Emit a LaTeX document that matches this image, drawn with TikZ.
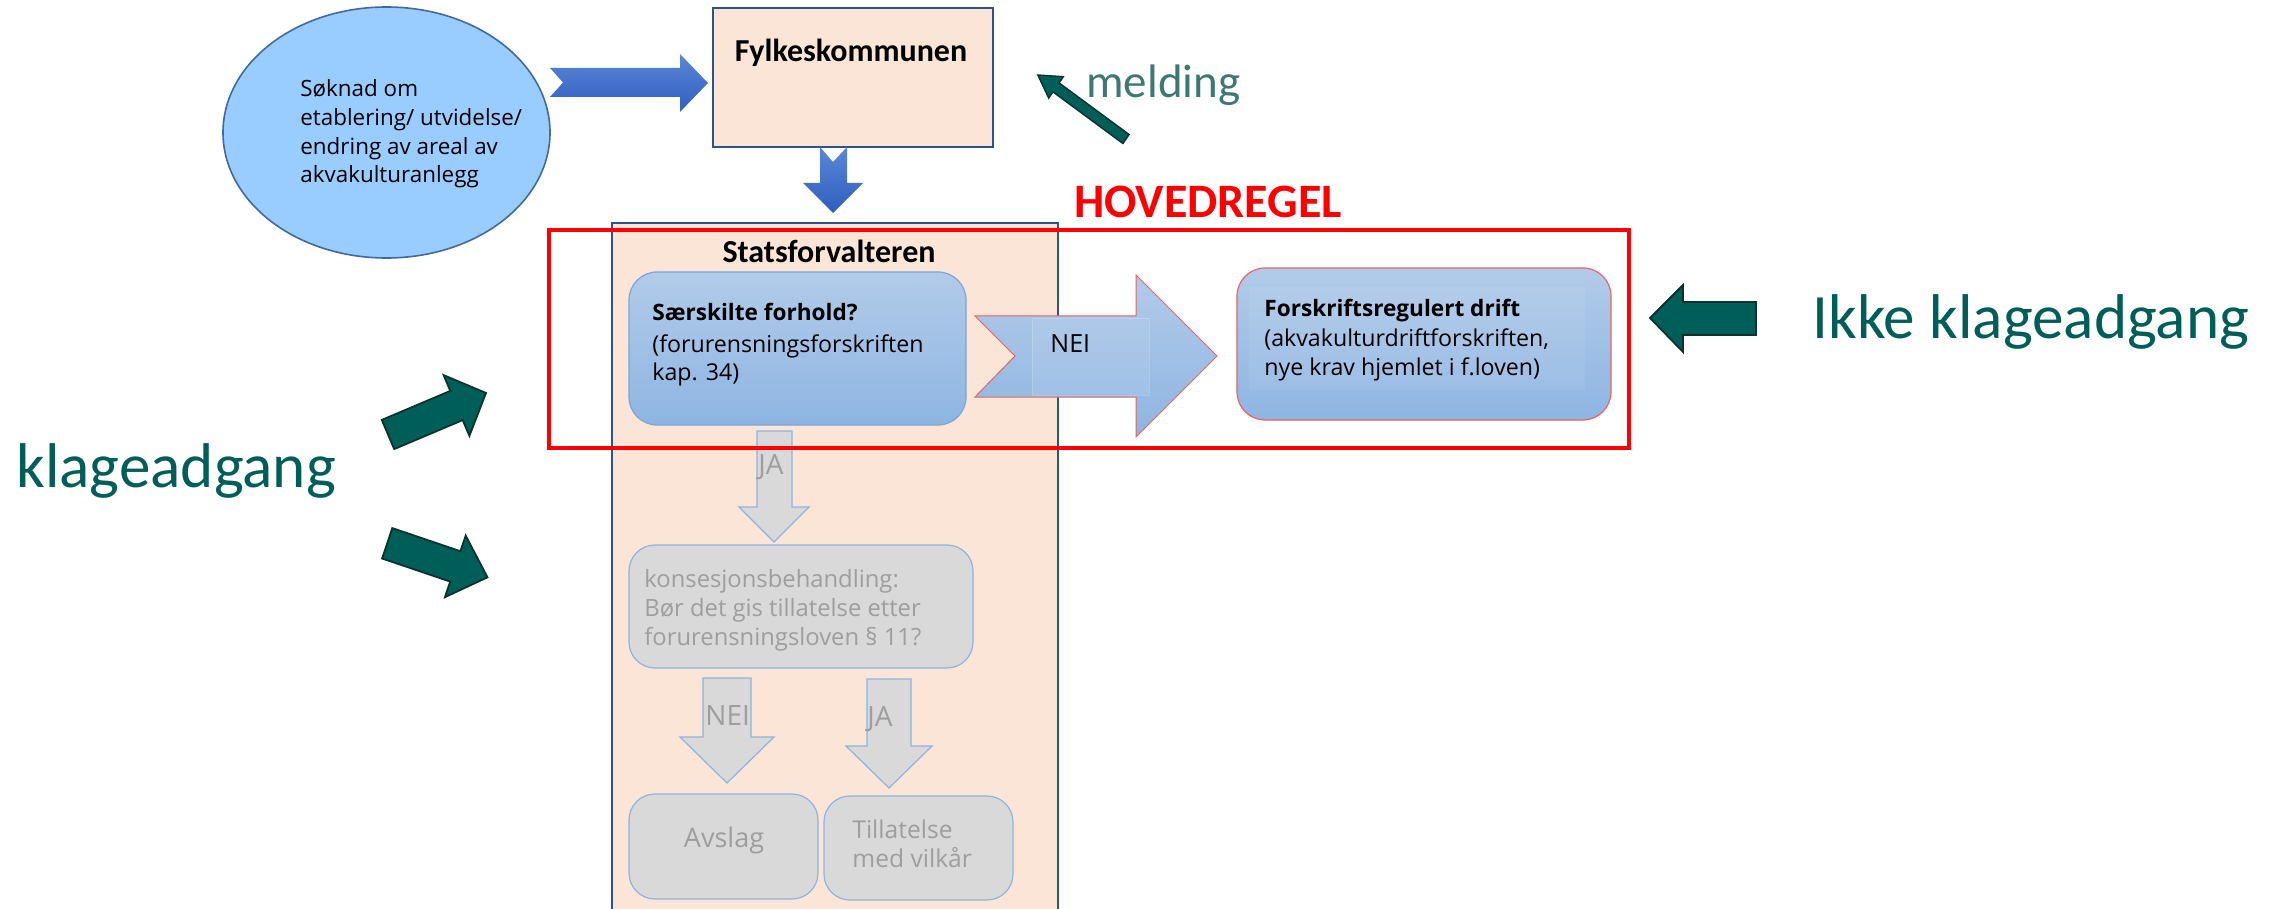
\documentclass[tikz,border=0pt]{standalone}
\usepackage{fontspec}
\setmainfont{Open Sans}
\newfontfamily\calfont{Carlito}
\usetikzlibrary{shapes.geometric}
\definecolor{peach}{RGB}{251,229,214}
\definecolor{peachline}{RGB}{47,82,143}
\definecolor{ellfill}{RGB}{153,204,255}
\definecolor{ellline}{RGB}{65,105,160}
\definecolor{arrtop}{RGB}{90,135,214}
\definecolor{arrbot}{RGB}{48,94,190}
\definecolor{bxtop}{RGB}{178,203,233}
\definecolor{bxbot}{RGB}{142,181,226}
\definecolor{bxline}{RGB}{125,165,215}
\definecolor{pinkline}{RGB}{232,100,100}
\definecolor{teal}{RGB}{0,94,89}
\definecolor{tealline}{RGB}{12,50,45}
\definecolor{meldcol}{RGB}{62,120,115}
\definecolor{grfill}{RGB}{217,217,217}
\definecolor{grline}{RGB}{141,180,226}
\definecolor{grtext}{RGB}{158,158,158}
\definecolor{hred}{RGB}{255,0,0}
\tikzset{
  txt/.style={inner sep=0pt, anchor=base west, text=black},
  ctxt/.style={inner sep=0pt, anchor=base, text=black},
  bluebox/.style={draw=bxline, line width=0.6pt, top color=bxtop, bottom color=bxbot, rounded corners=14pt, inner sep=0pt},
  graybox/.style={draw=grline, line width=0.6pt, fill=grfill, rounded corners=13pt, inner sep=0pt},
  grayarrow/.style={draw=grline, line width=0.6pt, fill=grfill},
  bluearrow/.style={top color=arrtop, bottom color=arrbot, draw=none},
  tealarrow/.style={fill=teal, draw=tealline, line width=0.9pt, line join=miter},
  peachbox/.style={draw=peachline, line width=1pt, fill=peach, inner sep=0pt},
  boxfont/.style={font=\fontsize{11.6}{14}\selectfont},
  grayfont/.style={font=\fontsize{11.9}{14}\selectfont, text=grtext},
}
\begin{document}
\begin{tikzpicture}[x=0.5pt,y=-0.5pt]
\useasboundingbox (0,0) rectangle (2276,909);
\clip (0,0) rectangle (2276,909);

% Statsforvalteren box
\node[peachbox, minimum width=223pt, minimum height=388.5pt] (stats) at (835,611.5) {};
% ellipse
\node[ellipse, draw=ellline, line width=0.8pt, fill=ellfill, inner sep=0pt,
      minimum width=163.5pt, minimum height=125.5pt] (soknad) at (386.5,132.5) {};
% Fylkeskommunen box
\node[peachbox, minimum width=140pt, minimum height=69.5pt] (fylke) at (853,77.5) {};

% blue arrows
\path[bluearrow] (550,68) -- (680,68) -- (680,54) -- (708,83) -- (680,112) -- (680,97) -- (550,97) -- (563,82.5) -- cycle;
\path[bluearrow] (820,147) -- (833,162) -- (847,147) -- (847,183) -- (863,183) -- (833,213) -- (803,183) -- (820,183) -- cycle;

% inner boxes
\node[bluebox, minimum width=168.5pt, minimum height=76.5pt] (saer) at (797.5,348.5) {};
\node[bluebox, draw=pinkline, minimum width=187pt, minimum height=76pt] (forskr) at (1424,344) {};
\fill[white, fill opacity=0.07] (1249,287) rectangle (1585,390);

% gray part
\path[grayarrow] (757,431) -- (792,431) -- (792,507) -- (809,507) -- (774,542) -- (739,507) -- (757,507) -- cycle;
\node[graybox, minimum width=172pt, minimum height=61.5pt] (kons) at (801,606.5) {};
\path[grayarrow] (703,678) -- (751,678) -- (751,737) -- (774,737) -- (727,783) -- (680,737) -- (703,737) -- cycle;
\path[grayarrow] (867,679) -- (911,679) -- (911,746) -- (932,746) -- (889,788) -- (846,746) -- (867,746) -- cycle;
\node[graybox, minimum width=94.5pt, minimum height=52.5pt] (avslag) at (723.5,846.5) {};
\node[graybox, minimum width=94.5pt, minimum height=52pt] (tillat) at (918.5,848) {};

% NEI arrow
\path[top color=bxtop, bottom color=bxbot, draw=pinkline, line width=0.5pt]
  (975,316) -- (1136,316) -- (1136,275) -- (1217,356) -- (1136,437) -- (1136,397) -- (975,397) -- (1015,356) -- cycle;
\path[fill=white, fill opacity=0.08, draw=white, draw opacity=0.2, line width=0.4pt] (1032,318) rectangle (1149,395);

% teal arrows
\path[tealarrow] (1650,318) -- (1683,285) -- (1683,302) -- (1756,302) -- (1756,335) -- (1683,335) -- (1683,352) -- cycle;
\path[tealarrow] (381.8,419.9) -- (450.3,390.9) -- (443.6,375.1) -- (486,393) -- (469.4,435.9) -- (462.7,420.1) -- (394.2,449.1) -- cycle;
\path[tealarrow] (392.3,528.1) -- (460.4,551.2) -- (465.7,535.6) -- (487.5,577.3) -- (444.9,597.2) -- (450.2,581.6) -- (382.1,558.5) -- cycle;
\path[tealarrow, line width=0.7pt] (1129.1,134.5) -- (1059.1,82.9) -- (1063.3,76.7) -- (1037.8,75) -- (1048.7,98.1) -- (1052.9,91.9) -- (1122.9,143.5) -- cycle;

% texts
\begin{scope}[every node/.append style={font=\fontsize{11.2}{14}\selectfont}]
\node[txt] (s1) at (300,97) {Søknad om};
\node[txt] (s2) at (300,126) {etablering/ utvidelse/};
\node[txt] (s3) at (300,155) {endring av areal av};
\node[txt] (s4) at (300,183) {akvakulturanlegg};
\end{scope}
\node[ctxt, font=\calfont\bfseries\fontsize{16}{18}\selectfont] (fylketxt) at (851,62) {Fylkeskommunen};
\node[ctxt, font=\calfont\bfseries\fontsize{16}{18}\selectfont] (statstxt) at (829,263) {Statsforvalteren};
\node[ctxt, text=hred, font=\calfont\bfseries\fontsize{24}{28}\selectfont] (hoved) at (1208,218) {HOVEDREGEL};
\node[txt, text=meldcol, font=\calfont\fontsize{23.5}{28}\selectfont] (meld) at (1086,98) {melding};
\node[txt, text=teal, font=\calfont\fontsize{31.6}{36}\selectfont] (ikke) at (1812,338) {Ikke klageadgang};
\node[txt, text=teal, font=\calfont\fontsize{31.6}{36}\selectfont] (klage) at (16,487) {klageadgang};

\node[txt, font=\bfseries\fontsize{11.3}{14}\selectfont] (sa1) at (652,321) {Særskilte forhold?};
\node[txt, boxfont] (sa2) at (652,352) {(forurensningsforskriften};
\node[txt, boxfont] (sa3) at (652,380) {kap. 34)};
\node[txt, font=\fontsize{12.5}{14}\selectfont] (neitxt) at (1050,352) {NEI};
\node[txt, font=\bfseries\fontsize{11.3}{14}\selectfont] (fo1) at (1264,317) {Forskriftsregulert drift};
\node[txt, boxfont] (fo2) at (1264,347) {(akvakulturdriftforskriften,};
\node[txt, boxfont] (fo3) at (1264,375) {nye krav hjemlet i f.loven)};

\node[txt, text=grtext, font=\fontsize{14}{16}\selectfont] (ja1) at (758,474) {JA};
\node[txt, grayfont] (k1) at (644,587) {konsesjonsbehandling:};
\node[txt, grayfont] (k2) at (644,616) {Bør det gis tillatelse etter};
\node[txt, grayfont] (k3) at (644,645) {forurensningsloven § 11?};
\node[txt, text=grtext, font=\fontsize{14}{16}\selectfont] (nei2) at (705,725) {NEI};
\node[txt, text=grtext, font=\fontsize{14}{16}\selectfont] (ja2) at (867,726) {JA};
\node[ctxt, text=grtext, font=\fontsize{13.5}{16}\selectfont] (avtxt) at (724,847) {Avslag};
\node[txt, text=grtext, font=\fontsize{12.3}{14}\selectfont] (t1) at (852,838) {Tillatelse};
\node[txt, text=grtext, font=\fontsize{12.3}{14}\selectfont] (t2) at (852,867) {med vilkår};

% red box on top
\node[draw=hred, line width=1.8pt, minimum width=540pt, minimum height=109pt, inner sep=0pt] (hovedbox) at (1089,339) {};
\end{tikzpicture}
\end{document}
